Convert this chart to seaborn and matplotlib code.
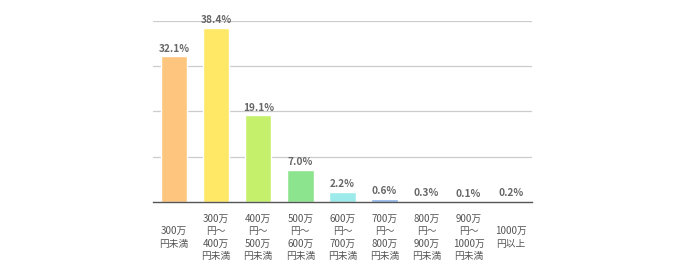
import matplotlib
matplotlib.use("Agg")
import matplotlib.pyplot as plt
import seaborn as sns
import pandas as pd

categories = ["300万\n円未満", "300万\n円～\n400万\n円未満", "400万\n円～\n500万\n円未満",
              "500万\n円～\n600万\n円未満", "600万\n円～\n700万\n円未満", "700万\n円～\n800万\n円未満",
              "800万\n円～\n900万\n円未満", "900万\n円～\n1000万\n円未満", "1000万\n円以上"]
values = [32.1, 38.4, 19.1, 7.0, 2.2, 0.6, 0.3, 0.1, 0.2]
colors = ["#FDC57D", "#FFE866", "#C5F06B", "#8DE48F", "#9DEAEA", "#8AB2EA", "#9BBFF0", "#B8A0E8", "#F49090"]

sns.set_theme(style="white")
plt.rcParams['font.family'] = ['Noto Sans CJK JP', 'DejaVu Sans']

df = pd.DataFrame({"cat": categories, "val": values})

fig = plt.figure(figsize=(6.8, 2.8), dpi=100)
ax = fig.add_axes([0.225, 0.2786, 0.557, 0.648])
sns.barplot(data=df, x="cat", y="val", hue="cat", palette=colors, legend=False,
            width=0.63, ax=ax, saturation=1)

ax.set_ylim(0, 40)
ax.set_xlim(-0.5, len(categories) - 0.5)
ax.set_yticks([10, 20, 30, 40])
ax.set_yticklabels([])
ax.yaxis.grid(True, color="#cccccc", linewidth=0.9)
ax.set_axisbelow(True)
ax.tick_params(axis="y", length=0)
ax.tick_params(axis="x", length=0, pad=25.5, labelsize=7, labelcolor="#555555")
for lab in ax.get_xticklabels():
    lab.set_verticalalignment("center")
    lab.set_multialignment("center")
    lab.set_linespacing(1.32)
for s in ["top", "right", "left"]:
    ax.spines[s].set_visible(False)
ax.spines["bottom"].set_color("#555555")
ax.spines["bottom"].set_linewidth(1.0)
ax.set_xlabel("")
ax.set_ylabel("")

for c in ax.containers:
    ax.bar_label(c, fmt="%.1f%%", padding=2, fontsize=7.3, color="#666666", fontweight="bold")

fig.savefig("out.png", dpi=100)
